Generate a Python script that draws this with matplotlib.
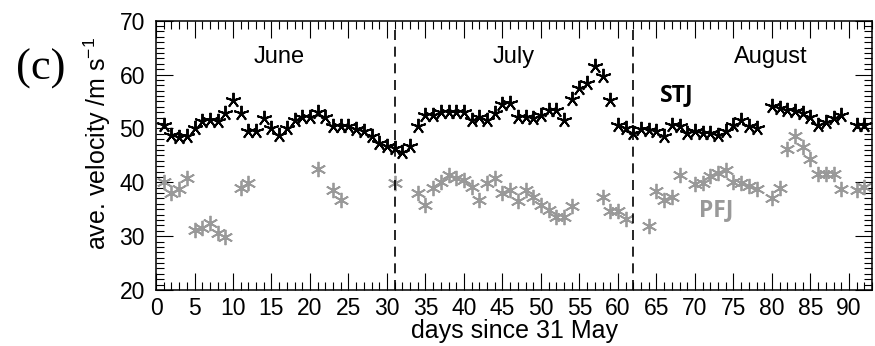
import matplotlib
matplotlib.use("Agg")
import matplotlib.pyplot as plt
from matplotlib.ticker import MultipleLocator

plt.rcParams['font.family'] = ['Liberation Sans', 'DejaVu Sans']

# days since 31 May and average jet velocities (m/s)
stj_days = [1, 2, 3, 4, 5, 6, 7, 8, 9, 10, 11, 12, 13, 14, 15, 16, 17, 18, 19, 20,
            21, 22, 23, 24, 25, 26, 27, 28, 29, 30, 31, 32, 33, 34, 35, 36, 37, 38, 39, 40,
            41, 42, 43, 44, 45, 46, 47, 48, 49, 50, 51, 52, 53, 54, 55, 56, 57, 58, 59, 60,
            61, 62, 63, 64, 65, 66, 67, 68, 69, 70, 71, 72, 73, 74, 75, 76, 77, 78, 80, 81,
            82, 83, 84, 85, 86, 87, 88, 89, 91, 92]
stj_vel = [50.7, 48.8, 48.5, 48.6, 50.0, 51.3, 51.6, 51.3, 52.8, 55.3, 52.8, 49.6, 49.6, 51.9, 50.0,
           48.8, 50.0, 51.6, 52.2, 52.2, 53.0, 52.2, 50.5, 50.4, 50.4, 49.8, 49.5, 48.6, 47.3, 46.8,
           46.4, 45.7, 46.8, 50.4, 52.5, 52.5, 53.1, 53.0, 53.1, 53.0, 51.5, 52.2, 51.6, 52.8, 54.6,
           54.8, 52.2, 52.2, 51.9, 52.5, 53.5, 53.5, 51.6, 55.4, 57.5, 58.4, 61.5, 59.8, 55.3, 50.7,
           50.0, 49.2, 49.8, 49.7, 49.5, 48.6, 50.7, 50.4, 49.2, 49.5, 49.2, 49.1, 48.8, 49.5, 50.7,
           51.6, 50.5, 50.0, 54.2, 53.8, 53.5, 53.3, 52.8, 52.2, 50.7, 51.1, 51.9, 52.4, 50.7, 50.7]

pfj_days = [1, 2, 3, 4, 5, 6, 7, 8, 9, 11, 12, 21, 23, 24, 31, 34, 35, 36, 37, 38,
            39, 40, 41, 42, 43, 44, 45, 46, 47, 48, 49, 50, 51, 52, 53, 54, 58, 59, 60, 61,
            64, 65, 66, 67, 68, 70, 71, 72, 73, 74, 75, 76, 77, 78, 80, 81, 82, 83, 84, 85,
            86, 87, 88, 89, 91, 92]
pfj_vel = [40.1, 38.0, 38.7, 40.8, 31.2, 31.5, 32.5, 30.5, 29.9, 38.9, 39.9, 42.4, 38.6, 36.7, 39.8,
           38.1, 35.8, 38.9, 40.1, 41.4, 40.8, 40.4, 39.2, 36.7, 39.9, 40.8, 38.1, 38.6, 36.6, 38.6,
           37.3, 35.8, 34.9, 33.6, 33.6, 35.6, 37.2, 34.7, 34.7, 33.1, 31.9, 38.3, 36.7, 37.2, 41.4,
           39.7, 39.9, 41.1, 41.8, 42.3, 40.1, 39.8, 39.3, 38.7, 37.0, 38.9, 46.2, 48.6, 46.6, 44.4,
           41.6, 41.6, 41.6, 38.7, 38.6, 39.1]

month_bounds = [31, 62]
months = ["June", "July", "August"]
month_x = [16.0, 46.4, 79.9]

fig = plt.figure(figsize=(8.75, 3.46), dpi=100)
ax = fig.add_axes([0.1783, 0.1618, 0.8183, 0.7784])

ax.plot(pfj_days, pfj_vel, ls='none', marker=(6, 2, 0), ms=11, mew=1.3,
        color='#999999')
ax.plot(stj_days, stj_vel, ls='none', marker=(5, 2, 0), ms=11, mew=1.4,
        color='black')

for b in month_bounds:
    ax.axvline(b, ymin=0, ymax=0.965, color='black', lw=1.2, dashes=(6, 4))

for name, mx in zip(months, month_x):
    ax.text(mx, 63.3, name, ha='center', va='center', fontsize=17)

ax.text(67.6, 56.2, "STJ", ha='center', va='center', fontsize=16.5,
        fontweight='bold', family=['Open Sans', 'DejaVu Sans'])
ax.text(72.8, 34.9, "PFJ", ha='center', va='center', fontsize=16.5,
        fontweight='bold', color='#999999', family=['Open Sans', 'DejaVu Sans'])

ax.set_xlim(0, 93)
ax.set_ylim(20, 70)
ax.xaxis.set_major_locator(MultipleLocator(5))
ax.xaxis.set_minor_locator(MultipleLocator(1))
ax.yaxis.set_major_locator(MultipleLocator(10))
ax.yaxis.set_minor_locator(MultipleLocator(1))
ax.tick_params(which='both', direction='in', top=True, right=True, width=0.8,
               labelsize=16.5)
ax.tick_params(which='major', length=12)
ax.tick_params(which='minor', length=6)
ax.tick_params(axis='x', pad=5)
ax.tick_params(axis='y', pad=8)
for s in ax.spines.values():
    s.set_linewidth(1.1)

ax.set_xlabel("days since 31 May", fontsize=18, labelpad=-1)
fig.text(0.111, 0.585, r"ave. velocity /m s$^{\mathregular{-1}}$", rotation=90,
         ha='center', va='center', fontsize=18)
fig.text(0.046, 0.80, "(c)", ha='center', va='center', fontsize=32,
         family=['Liberation Serif', 'DejaVu Serif'])

fig.savefig("out.png", dpi=100)
